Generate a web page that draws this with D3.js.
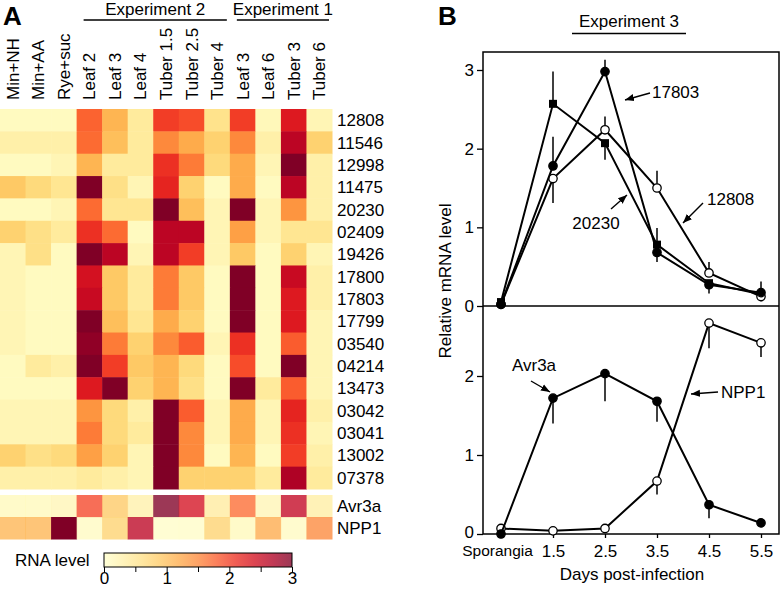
<!DOCTYPE html>
<html><head><meta charset="utf-8">
<script src="https://cdn.jsdelivr.net/npm/d3@7/dist/d3.min.js"></script>
<style>
html,body{margin:0;padding:0;background:#fff;}
svg text{font-family:Arial,"Liberation Sans",Helvetica,sans-serif;fill:#000;}
</style></head>
<body><svg id="c" width="783" height="589"></svg>
<script>
// ---------- Panel A data ----------
const conditions = ["Min+NH","Min+AA","Rye+suc","Leaf 2","Leaf 3","Leaf 4","Tuber 1.5","Tuber 2.5","Tuber 4","Leaf 3","Leaf 6","Tuber 3","Tuber 6"];
const genes = ["12808","11546","12998","11475","20230","02409","19426","17800","17803","17799","03540","04214","13473","03042","03041","13002","07378"];
const rnaLevels = [
  [0.1,0.1,0.1,1.75,1.1,0.4,2.0,1.9,0.55,2.0,0.15,2.3,0.2],
  [0.3,0.3,0.3,1.7,1.0,0.4,1.5,1.2,0.8,1.5,0.3,2.6,0.8],
  [0.1,0.1,0.2,1.1,0.4,0.4,2.1,1.6,0.7,1.2,0.2,3.0,0.3],
  [0.9,0.7,0.5,3.0,0.6,0.2,2.2,0.8,0.1,1.2,0.1,2.6,0.3],
  [0.1,0.1,0.2,1.7,0.5,0.5,3.0,1.0,0.2,3.0,0.2,1.4,0.3],
  [0.8,0.6,0.4,2.1,1.7,0.1,2.6,2.6,0.2,1.3,0.2,0.5,0.5],
  [0.2,0.6,0.1,3.0,2.6,0.2,2.6,2.0,0.2,0.9,0.1,0.8,0.2],
  [0.2,0.1,0.1,2.4,0.9,0.4,1.6,0.9,0.1,3.0,0.1,2.5,0.3],
  [0.2,0.1,0.1,2.5,0.9,0.4,1.6,0.9,0.1,3.0,0.1,2.3,0.3],
  [0.2,0.1,0.1,3.0,1.0,0.5,1.2,0.8,0.1,3.0,0.1,2.3,0.2],
  [0.2,0.1,0.1,2.9,1.6,0.8,1.5,1.8,0.2,2.1,0.1,1.8,0.2],
  [0.1,0.4,0.3,3.0,2.0,0.9,1.1,0.7,0.1,1.9,0.1,3.0,0.2],
  [0.1,0.1,0.1,2.3,3.0,0.8,1.1,0.6,0.1,3.0,0.4,1.8,0.2],
  [0.2,0.2,0.2,1.4,0.7,0.3,3.0,1.8,0.2,1.2,0.2,2.2,0.3],
  [0.2,0.2,0.2,1.6,0.7,0.4,3.0,1.5,0.2,1.2,0.2,2.1,0.2],
  [0.8,0.6,0.7,1.3,0.8,0.2,3.0,1.5,0.1,1.1,0.1,2.0,0.3],
  [0.3,0.3,0.3,0.4,0.3,0.2,3.0,0.8,0.8,0.8,0.4,2.7,0.4]
];
const markerGenes = ["Avr3a","NPP1"];
const markerLevels = [
  [0.15,0.15,0.2,1.95,0.9,0.3,3.0,2.4,0.4,1.7,0.2,2.55,0.35],
  [1.1,1.1,3.5,0.1,0.8,2.6,0.05,0.05,0.8,0.15,1.2,0.1,1.5]
];
const experimentsA = [{name:"Experiment 2", from:3, to:8},{name:"Experiment 1", from:9, to:12}];
const legendTicks = [0,1,2,3];

// ---------- Panel B data ----------
const days = ["Sporangia","1.5","2.5","3.5","4.5","5.5"];
const g17803 = [0.02,1.78,2.98,0.68,0.27,0.17];
const e17803 = [0,0.37,0.15,-0.12,-0.11,0.14];
const g20230 = [0.05,2.57,2.07,0.78,0.29,0.15];
const e20230 = [0,0.41,-0.21,0.21,0,0];
const g12808 = [0.02,1.62,2.24,1.50,0.42,0.12];
const e12808 = [0,-0.31,0.17,0.22,0.14,-0.06];
const avr3a = [0,1.72,2.03,1.68,0.37,0.14];
const eAvr3a = [0,-0.32,-0.35,-0.26,-0.17,0];
const npp1 = [0.07,0.04,0.07,0.67,2.67,2.42];
const eNpp1 = [0,0,0,-0.17,-0.32,-0.18];
const topTicks = [0,1,2,3];
const bottomTicks = [0,1,2];

const svg = d3.select("#c");
const FS = 17;

// ===== Panel A =====
const color = d3.scaleSequential(d3.interpolateYlOrRd).domain([0,3]).clamp(true);
const x = d3.scaleBand().domain(d3.range(conditions.length)).range([0,332]);
const y = d3.scaleBand().domain(genes).range([109,489]);
const y2 = d3.scaleBand().domain(markerGenes).range([495,539]);

svg.append("text").attr("x",3).attr("y",25).attr("font-size",26).attr("font-weight","bold").text("A");

const gA = svg.append("g");
rnaLevels.forEach((row,i)=>{
  gA.selectAll(null).data(row).enter().append("rect")
    .attr("x",(d,j)=>x(j)).attr("y",y(genes[i]))
    .attr("width",x.bandwidth()+0.5).attr("height",y.bandwidth()+0.5)
    .attr("fill",d=>color(d));
});
markerLevels.forEach((row,i)=>{
  gA.selectAll(null).data(row).enter().append("rect")
    .attr("x",(d,j)=>x(j)).attr("y",y2(markerGenes[i]))
    .attr("width",x.bandwidth()+0.5).attr("height",y2.bandwidth()+0.5)
    .attr("fill",d=>color(d)).attr("fill-opacity",d=>d>3?1:0.78);
});
// row labels
gA.selectAll(null).data(genes).enter().append("text")
  .attr("x",337).attr("y",d=>y(d)+y.bandwidth()/2+6).attr("font-size",FS).text(d=>d);
gA.selectAll(null).data(markerGenes).enter().append("text")
  .attr("x",337).attr("y",d=>y2(d)+y2.bandwidth()/2+6).attr("font-size",FS).text(d=>d);
// column labels
gA.selectAll(null).data(conditions).enter().append("text")
  .attr("transform",(d,j)=>`translate(${x(j)+x.bandwidth()/2+6},100) rotate(-90)`)
  .attr("font-size",FS).text(d=>d);
// experiment headers
experimentsA.forEach(e=>{
  const x1 = x(e.from)+7, x2 = x(e.to)+x.bandwidth()-3;
  svg.append("line").attr("x1",x1).attr("x2",x2).attr("y1",20).attr("y2",20).attr("stroke","#000").attr("stroke-width",1.5);
  svg.append("text").attr("x",(x1+x2)/2).attr("y",15).attr("text-anchor","middle").attr("font-size",FS).text(e.name);
});
// legend
const lx = d3.scaleLinear().domain([0,3]).range([104,292]);
const defs = svg.append("defs");
const grad = defs.append("linearGradient").attr("id","lg");
d3.range(0,1.0001,0.1).forEach(t=>grad.append("stop").attr("offset",t).attr("stop-color",color(t*3)));
svg.append("text").attr("x",15).attr("y",566).attr("font-size",FS).text("RNA level");
svg.append("rect").attr("x",104).attr("y",553).attr("width",188).attr("height",14)
  .attr("fill","url(#lg)").attr("fill-opacity",0.78);
svg.append("rect").attr("x",104).attr("y",553).attr("width",188).attr("height",14)
  .attr("fill","none").attr("stroke","#000").attr("stroke-width",1);
const lAxis = svg.append("g").attr("transform","translate(0,567)")
  .call(d3.axisBottom(lx).tickValues(d3.range(0,3.01,0.5)).tickSize(5).tickFormat(d=>legendTicks.includes(d)?d:""));
lAxis.select(".domain").remove();
lAxis.selectAll("text").attr("font-size",FS).attr("dy","0.55em").attr("font-family","Arial,'Liberation Sans',sans-serif");

// ===== Panel B =====
svg.append("text").attr("x",438).attr("y",25).attr("font-size",26).attr("font-weight","bold").text("B");
svg.append("text").attr("x",629).attr("y",27).attr("text-anchor","middle").attr("font-size",FS).text("Experiment 3");
svg.append("line").attr("x1",572).attr("x2",686).attr("y1",33.5).attr("y2",33.5).attr("stroke","#000").attr("stroke-width",1.5);

const L=483, R=779, T=52, M=306, B=534;
const xB = d3.scalePoint().domain(days).range([501,761]);
const yTop = d3.scaleLinear().domain([0,3]).range([M,70]);
const yBot = d3.scaleLinear().domain([0,2]).range([B,376]);

// frame
svg.append("rect").attr("x",L).attr("y",T).attr("width",R-L).attr("height",B-T)
  .attr("fill","none").attr("stroke","#000").attr("stroke-width",1.5);
svg.append("line").attr("x1",L).attr("x2",R).attr("y1",M).attr("y2",M).attr("stroke","#000").attr("stroke-width",1.5);

function yAxis(scale,ticks){
  const g = svg.append("g").attr("transform",`translate(${L},0)`)
    .call(d3.axisLeft(scale).tickValues(ticks).tickSize(6).tickPadding(3).tickFormat(d3.format("d")));
  g.select(".domain").remove();
  g.selectAll("line").attr("stroke-width",1.3);
  g.selectAll("text").attr("font-size",FS).attr("font-family","Arial,'Liberation Sans',sans-serif");
  return g;
}
yAxis(yTop,topTicks);
const yb = yAxis(yBot,bottomTicks);
yb.selectAll("text").filter(d=>d===0).attr("dy","0.2em");

const xg = svg.append("g").attr("transform",`translate(0,${B})`)
  .call(d3.axisBottom(xB).tickSize(4).tickPadding(7));
xg.select(".domain").remove();
xg.selectAll("line").attr("stroke-width",1.3);
xg.selectAll("text").attr("font-size",FS).attr("font-family","Arial,'Liberation Sans',sans-serif");
xg.selectAll("text").filter(d=>d==="Sporangia").attr("font-size",15.5).attr("dx",-4);

svg.append("text").attr("x",632).attr("y",580).attr("text-anchor","middle").attr("font-size",FS).text("Days post-infection");
svg.append("text").attr("transform","translate(451,281) rotate(-90)").attr("text-anchor","middle").attr("font-size",FS).text("Relative mRNA level");

function series(vals,errs,scale,shape){
  const g = svg.append("g");
  g.selectAll(null).data(vals).enter().append("line")
    .attr("x1",(d,i)=>xB(days[i])).attr("x2",(d,i)=>xB(days[i]))
    .attr("y1",d=>scale(d)).attr("y2",(d,i)=>scale(d+errs[i]))
    .attr("stroke","#000").attr("stroke-width",1.5);
  const line = d3.line().x((d,i)=>xB(days[i])).y(d=>scale(d));
  g.append("path").datum(vals).attr("d",line).attr("fill","none").attr("stroke","#000").attr("stroke-width",2);
  if(shape==="square"){
    g.selectAll(null).data(vals).enter().append("rect")
      .attr("x",(d,i)=>xB(days[i])-4).attr("y",d=>scale(d)-4).attr("width",8).attr("height",8).attr("fill","#000");
  } else {
    g.selectAll(null).data(vals).enter().append("circle")
      .attr("cx",(d,i)=>xB(days[i])).attr("cy",d=>scale(d)).attr("r",4.2)
      .attr("fill",shape==="open"?"#fff":"#000").attr("stroke","#000").attr("stroke-width",1.3);
  }
}
series(g20230,e20230,yTop,"square");
series(g12808,e12808,yTop,"open");
series(g17803,e17803,yTop,"filled");
series(npp1,eNpp1,yBot,"open");
series(avr3a,eAvr3a,yBot,"filled");

// annotations with arrows
defs.append("marker").attr("id","ah").attr("viewBox","0 0 10 10").attr("refX",10).attr("refY",5)
  .attr("markerWidth",9).attr("markerHeight",9).attr("markerUnits","userSpaceOnUse").attr("orient","auto")
  .append("path").attr("d","M0,1 L10,5 L0,9 Z").attr("fill","#000");
const notes = [
  {t:"17803", tx:652, ty:98, a:[650,93,625,100], anchor:"start"},
  {t:"12808", tx:707, ty:205, a:[703,203,683,223], anchor:"start"},
  {t:"20230", tx:596, ty:229, a:[611,209,627,195], anchor:"middle"},
  {t:"Avr3a", tx:534, ty:371, a:[531,381,550,392], anchor:"middle"},
  {t:"NPP1", tx:721, ty:398, a:[718,392,691,394], anchor:"start"}
];
notes.forEach(n=>{
  svg.append("line").attr("x1",n.a[0]).attr("y1",n.a[1]).attr("x2",n.a[2]).attr("y2",n.a[3])
    .attr("stroke","#000").attr("stroke-width",1.4).attr("marker-end","url(#ah)");
  svg.append("text").attr("x",n.tx).attr("y",n.ty).attr("text-anchor",n.anchor).attr("font-size",FS).text(n.t);
});
</script></body></html>
